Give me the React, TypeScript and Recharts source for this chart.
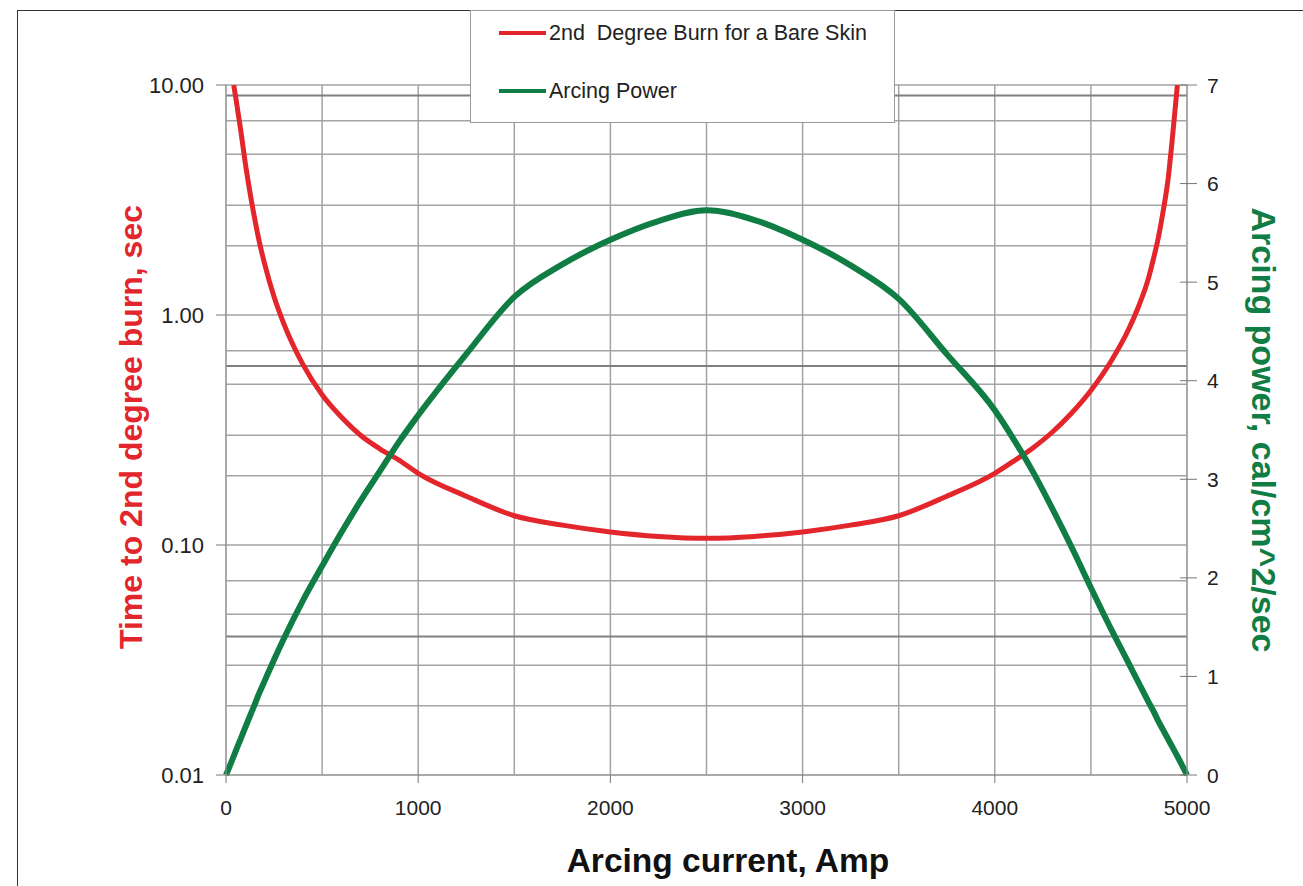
import React from "react";
import {
  LineChart,
  Line,
  XAxis,
  YAxis,
  CartesianGrid,
  Legend,
  Label,
  ReferenceLine,
} from "recharts";

const FONT = '"Liberation Sans", Arial, Helvetica, sans-serif';
const RED = "#e3262c";
const GREEN = "#0f7d44";

// arcing current, A
const current = [
  0, 40, 50, 75, 100, 125, 150, 175, 200, 250, 300, 400, 500, 600, 700, 800,
  900, 1000, 1250, 1500, 1750, 2000, 2250, 2500, 2750, 3000, 3250, 3500, 3750,
  4000, 4100, 4200, 4300, 4400, 4500, 4600, 4700, 4750, 4800, 4825, 4850, 4875,
  4900, 4925, 4950, 5000,
];

// time to 2nd degree burn, sec (log axis)
const burnTime = [
  null, 10, 8.9, 6.5, 4.6, 3.4, 2.6, 2.05, 1.68, 1.2, 0.92, 0.61, 0.45, 0.36,
  0.3, 0.262, 0.234, 0.205, 0.163, 0.134, 0.122, 0.114, 0.109, 0.107, 0.109,
  0.114, 0.122, 0.134, 0.163, 0.205, 0.232, 0.265, 0.31, 0.375, 0.47, 0.62,
  0.88, 1.1, 1.45, 1.75, 2.15, 2.8, 3.8, 6.0, 10, null,
];

// arcing power, cal/cm^2/sec
const arcPower = [
  0, 0.19, 0.24, 0.36, 0.48, 0.6, 0.72, 0.84, 0.95, 1.17, 1.38, 1.77, 2.12,
  2.46, 2.78, 3.08, 3.38, 3.65, 4.27, 4.85, 5.18, 5.43, 5.62, 5.73, 5.63, 5.43,
  5.17, 4.83, 4.27, 3.7, 3.4, 3.07, 2.7, 2.31, 1.9, 1.5, 1.12, 0.93, 0.74,
  0.65, 0.55, 0.46, 0.37, 0.28, 0.19, 0,
];

const xTicks = [0, 1000, 2000, 3000, 4000, 5000];
const xGrid = [0, 500, 1000, 1500, 2000, 2500, 3000, 3500, 4000, 4500, 5000];
const timeTicks = [0.01, 0.1, 1, 10];
const timeGrid = [
  0.01, 0.02, 0.03, 0.04, 0.05, 0.06, 0.07, 0.08, 0.09,
  0.1, 0.2, 0.3, 0.4, 0.5, 0.6, 0.7, 0.8, 0.9,
  1, 2, 3, 4, 5, 6, 7, 8, 9, 10,
];
const darkTimeLines = [9, 0.6, 0.04];
const powerTicks = [0, 1, 2, 3, 4, 5, 6, 7];

const data = current.map((c, i) => ({
  current: c,
  burn: burnTime[i],
  power: arcPower[i],
}));

function LegendBox({ payload }: any) {
  return (
    <div
      style={{
        width: 425,
        height: 113,
        boxSizing: "border-box",
        border: "1px solid #9a9a9a",
        background: "#fff",
        position: "relative",
        fontFamily: FONT,
        fontSize: 21.5,
        color: "#222",
      }}
    >
      {(payload || []).map((p: any, i: number) => (
        <div
          key={i}
          style={{
            position: "absolute",
            left: 28,
            top: 10 + i * 58,
            height: 24,
            display: "flex",
            alignItems: "center",
            whiteSpace: "pre",
          }}
        >
          <span
            style={{
              display: "inline-block",
              width: 47,
              height: 4,
              background: p.color,
              marginRight: 3,
            }}
          />
          <span>{p.value}</span>
        </div>
      ))}
    </div>
  );
}

function RightTick({ x, y, payload }: any) {
  return (
    <g>
      <line x1={x - 27} x2={x - 20} y1={y} y2={y} stroke="#777" />
      <text
        x={x}
        y={y}
        dy="0.36em"
        fill="#222"
        fontSize={21}
        fontFamily={FONT}
      >
        {payload.value}
      </text>
    </g>
  );
}

export default function App() {
  return (
    <div style={{ position: "absolute", left: 0, top: 0, width: 1303, height: 886, background: "#fff" }}>
      <div
        style={{
          position: "absolute",
          left: 17,
          top: 10,
          width: 1303 - 17,
          height: 886 - 10,
          borderTop: "1.5px solid #333",
          borderLeft: "1.5px solid #333",
          boxSizing: "border-box",
        }}
      />
      <LineChart
        width={1303}
        height={886}
        data={data}
        margin={{ top: 85, right: 56, bottom: 51, left: 126 }}
      >
        <CartesianGrid
          yAxisId="time"
          horizontalValues={timeGrid}
          verticalValues={xGrid}
          stroke="#a3a3a3"
          strokeWidth={1.5}
        />
        {darkTimeLines.map((v) => (
          <ReferenceLine key={v} yAxisId="time" y={v} stroke="#808080" strokeWidth={2} />
        ))}
        <XAxis
          dataKey="current"
          type="number"
          domain={[0, 5000]}
          ticks={xTicks}
          height={60}
          axisLine={{ stroke: "#999" }}
          tickLine={{ stroke: "#777" }}
          tickSize={8}
          tickMargin={17}
          tick={{ fill: "#222", fontSize: 21, fontFamily: FONT }}
        >
          <Label
            content={() => (
              <text
                x={728}
                y={872}
                textAnchor="middle"
                fontSize={33.5}
                fontWeight="bold"
                fontFamily={FONT}
                fill="#111"
              >
                Arcing current, Amp
              </text>
            )}
          />
        </XAxis>
        <YAxis
          yAxisId="time"
          orientation="left"
          scale="log"
          domain={[0.01, 10]}
          ticks={timeTicks}
          allowDataOverflow
          width={100}
          axisLine={{ stroke: "#999" }}
          tickLine={{ stroke: "#777" }}
          tickSize={10}
          tickMargin={12}
          tickFormatter={(v: number) => v.toFixed(2)}
          tick={{ fill: "#222", fontSize: 22, fontFamily: FONT }}
        >
          <Label
            content={() => (
              <text
                x={142}
                y={427}
                transform="rotate(-90 142 427)"
                textAnchor="middle"
                fontSize={32}
                fontWeight="bold"
                fontFamily={FONT}
                fill={RED}
              >
                Time to 2nd degree burn, sec
              </text>
            )}
          />
        </YAxis>
        <YAxis
          yAxisId="power"
          orientation="right"
          domain={[0, 7]}
          ticks={powerTicks}
          width={60}
          axisLine={{ stroke: "#999" }}
          tickLine={{ stroke: "#777" }}
          tickSize={10}
          tickMargin={10}
          tick={<RightTick />}
        >
          <Label
            content={() => (
              <text
                x={1252}
                y={430}
                transform="rotate(90 1252 430)"
                textAnchor="middle"
                fontSize={34}
                fontWeight="bold"
                fontFamily={FONT}
                fill={GREEN}
              >
                Arcing power, cal/cm^2/sec
              </text>
            )}
          />
        </YAxis>
        <Legend
          layout="horizontal"
          verticalAlign="middle"
          align="center"
          content={<LegendBox />}
          wrapperStyle={{ left: 470, top: 10, width: 425, height: 113 }}
        />
        <Line
          yAxisId="time"
          name="2nd  Degree Burn for a Bare Skin"
          dataKey="burn"
          type="monotone"
          stroke={RED}
          strokeWidth={5}
          dot={false}
          activeDot={false}
          isAnimationActive={false}
        />
        <Line
          yAxisId="power"
          name="Arcing Power"
          dataKey="power"
          type="monotone"
          stroke={GREEN}
          strokeWidth={6}
          dot={false}
          activeDot={false}
          isAnimationActive={false}
        />
      </LineChart>
    </div>
  );
}
